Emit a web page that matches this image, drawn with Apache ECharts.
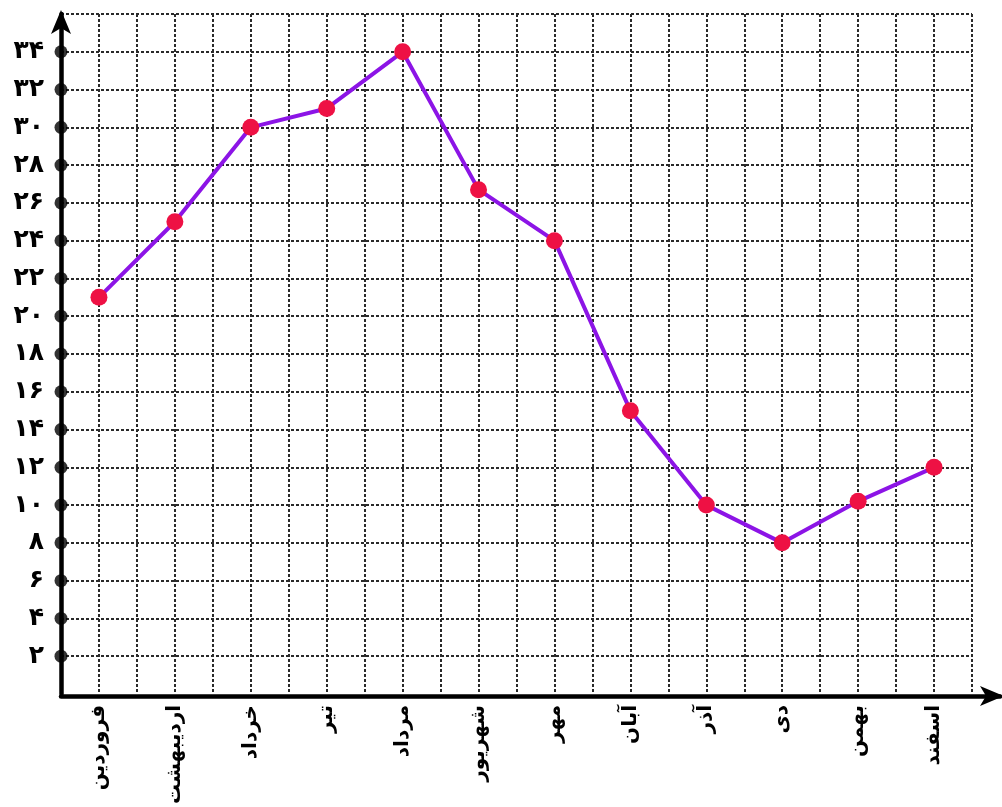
<!DOCTYPE html>
<html>
<head>
<meta charset="utf-8">
<script src="https://cdn.jsdelivr.net/npm/echarts@6/dist/echarts.min.js"></script>
<style>html,body{margin:0;padding:0;background:#fff}#c{width:1002px;height:807px}</style>
</head>
<body>
<div id="c"></div>
<script>
const months = ['فروردین','اردیبهشت','خرداد','تیر','مرداد','شهریور','مهر','آبان','آذر','دی','بهمن','اسفند'];
const values = [21, 25, 30, 31, 34, 26.7, 24, 15, 10, 8, 10.2, 12];
const yTicks = [2,4,6,8,10,12,14,16,18,20,22,24,26,28,30,32,34];
const yTickLabels = ['۲','۴','۶','۸','۱۰','۱۲','۱۴','۱۶','۱۸','۲۰','۲۲','۲۴','۲۶','۲۸','۳۰','۳۲','۳۴'];

const chart = echarts.init(document.getElementById('c'), null, {renderer:'canvas'});
const gridLine = {show:true, lineStyle:{color:'#2a2a2a', width:2, type:[3,2]}, showMinLine:false, showMaxLine:true};
const axisLineStyle = {color:'#000', width:4.5};
chart.setOption({
  animation:false,
  backgroundColor:'#fff',
  grid:[
    {left:61, width:911, top:14, bottom:111, containLabel:false},
    {left:61, right:2, top:14, bottom:111, containLabel:false}
  ],
  xAxis:[{
    gridIndex:0, type:'value', min:0, max:24, interval:1,
    axisLine:{show:false},
    axisTick:{show:false},
    splitLine:gridLine,
    axisLabel:{
      rotate:90, margin:11, interval:0,
      fontFamily:'DejaVu Sans', fontWeight:'bold', fontSize:20, color:'#000',
      formatter:function(v){ if (v % 2 === 1) { return months[(v-1)/2] || ''; } return ''; }
    }
  },{
    gridIndex:1, type:'value', min:0, max:1,
    axisLine:{show:true, onZero:false, symbol:['none','arrow'], symbolSize:[15,24], symbolOffset:[0,4], lineStyle:axisLineStyle},
    axisTick:{show:false}, axisLabel:{show:false}, splitLine:{show:false}
  }],
  yAxis:[{
    gridIndex:0, type:'value', min:0, max:36, interval:2,
    axisLine:{show:true, onZero:false, symbol:['none','arrow'], symbolSize:[15,24], symbolOffset:[0,4], lineStyle:axisLineStyle},
    axisTick:{show:false},
    splitLine:gridLine,
    axisLabel:{
      margin:17, fontFamily:'DejaVu Sans', fontWeight:'bold', fontSize:25, color:'#000',
      formatter:function(v){ const i = yTicks.indexOf(v); return i >= 0 ? yTickLabels[i] : ''; }
    }
  },{
    gridIndex:1, type:'value', min:0, max:1, show:false
  }],
  series:[
    {
      type:'scatter', xAxisIndex:0, yAxisIndex:0, data:yTicks.map(function(t){return [0,t];}),
      symbol:'circle', symbolSize:13, itemStyle:{color:'#000'}, z:5, clip:false, silent:true
    },
    {
      type:'line', xAxisIndex:0, yAxisIndex:0, data:values.map(function(v,i){return [2*i+1, v];}),
      symbol:'circle', symbolSize:17, showAllSymbol:true,
      lineStyle:{color:'#8c14e6', width:4},
      itemStyle:{color:'#ee1144', borderWidth:0},
      z:4
    }
  ]
});
</script>
</body>
</html>
